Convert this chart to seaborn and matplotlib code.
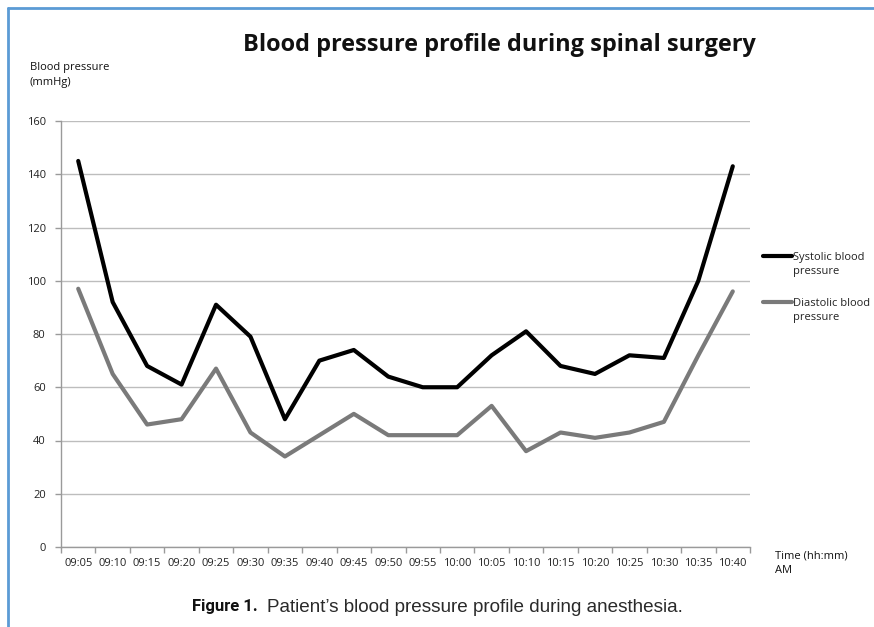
import matplotlib
matplotlib.use("Agg")
import matplotlib.pyplot as plt
import seaborn as sns
import pandas as pd
import numpy as np
from matplotlib.lines import Line2D

times = ["09:05", "09:10", "09:15", "09:20", "09:25", "09:30", "09:35", "09:40",
         "09:45", "09:50", "09:55", "10:00", "10:05", "10:10", "10:15", "10:20",
         "10:25", "10:30", "10:35", "10:40"]
systolic = [145, 92, 68, 61, 91, 79, 48, 70, 74, 64, 60, 60, 72, 81, 68, 65, 72, 71, 100, 143]
diastolic = [97, 65, 46, 48, 67, 43, 34, 42, 50, 42, 42, 42, 53, 36, 43, 41, 43, 47, 72, 96]
series_names = ["Systolic blood\npressure", "Diastolic blood\npressure"]
y_ticks = [0, 20, 40, 60, 80, 100, 120, 140, 160]

sns.set_style("white")
plt.rcParams['font.family'] = ['Open Sans', 'DejaVu Sans']

df = pd.DataFrame({
    "idx": list(range(len(times))) * 2,
    "value": systolic + diastolic,
    "series": [series_names[0]] * len(times) + [series_names[1]] * len(times),
})

fig = plt.figure(figsize=(8.74, 6.27), dpi=100)
ax = fig.add_axes([61 / 874, 1 - 547 / 627, (750 - 61) / 874, (547 - 121) / 627])

palette = {series_names[0]: "#000000", series_names[1]: "#7a7a7a"}
sns.lineplot(data=df, x="idx", y="value", hue="series", palette=palette,
             linewidth=3, ax=ax, legend=False, sort=False)

ax.set_xlim(-0.5, len(times) - 0.5)
ax.set_ylim(0, 160)
ax.set_yticks(y_ticks)
ax.set_yticklabels([str(v) for v in y_ticks], fontsize=8, color="#222222")
ax.yaxis.grid(True, color="#bdbdbd", linewidth=1)
ax.set_axisbelow(True)

ax.set_xticks(range(len(times)))
ax.set_xticklabels(times, fontsize=8, color="#222222")
ax.set_xticks(np.arange(-0.5, len(times), 1.0), minor=True)
ax.tick_params(axis="x", which="major", length=0, pad=8)
ax.tick_params(axis="x", which="minor", length=4, color="#9a9a9a", width=1)
ax.tick_params(axis="y", which="major", length=4, color="#9a9a9a", width=1, pad=7)
ax.tick_params(axis="y", left=True)
ax.tick_params(axis="x", bottom=True, which="minor")

for s in ["top", "right"]:
    ax.spines[s].set_visible(False)
for s in ["left", "bottom"]:
    ax.spines[s].set_color("#9a9a9a")
    ax.spines[s].set_linewidth(1)
ax.set_xlabel("")
ax.set_ylabel("")

fig.text(499 / 874, 1 - 45 / 627, "Blood pressure profile during spinal surgery",
         ha="center", va="center", fontsize=16.9, fontweight="bold", color="#111111")
fig.text(30 / 874, 1 - 75 / 627, "Blood pressure\n(mmHg)", ha="left", va="center",
         fontsize=8, color="#111111", linespacing=1.5)
fig.text(775 / 874, 1 - 563 / 627, "Time (hh:mm)\nAM", ha="left", va="center",
         fontsize=8, color="#111111", linespacing=1.4)

# legend (manual placement: key line aligned with first text line)
leg_y = [256, 302]
for name, yy in zip(series_names, leg_y):
    fig.add_artist(Line2D([763 / 874, 792 / 874], [1 - yy / 627, 1 - yy / 627],
                          color=palette[name], linewidth=3, transform=fig.transFigure))
    fig.text(793 / 874, 1 - (yy - 4) / 627, name, ha="left", va="top", fontsize=8,
             color="#222222", linespacing=1.4)

fig.text(192 / 874, 1 - 607 / 627, "Figure 1.", ha="left", va="center",
         fontsize=12, fontweight="bold",
         family=["Liberation Sans Narrow", "Roboto", "DejaVu Sans"], color="#111111")
fig.text(267 / 874, 1 - 607 / 627, "Patient\u2019s blood pressure profile during anesthesia.",
         ha="left", va="center", fontsize=13.6,
         family=["Liberation Sans", "DejaVu Sans"], color="#2a2a2a")

border = "#5b9bd5"
fig.add_artist(Line2D([8 / 874, 8 / 874], [0, 1 - 8 / 627], color=border, linewidth=2,
                      transform=fig.transFigure))
fig.add_artist(Line2D([8 / 874, 1], [1 - 8 / 627, 1 - 8 / 627], color=border, linewidth=2,
                      transform=fig.transFigure))

fig.savefig("out.png", dpi=100, facecolor="white")
